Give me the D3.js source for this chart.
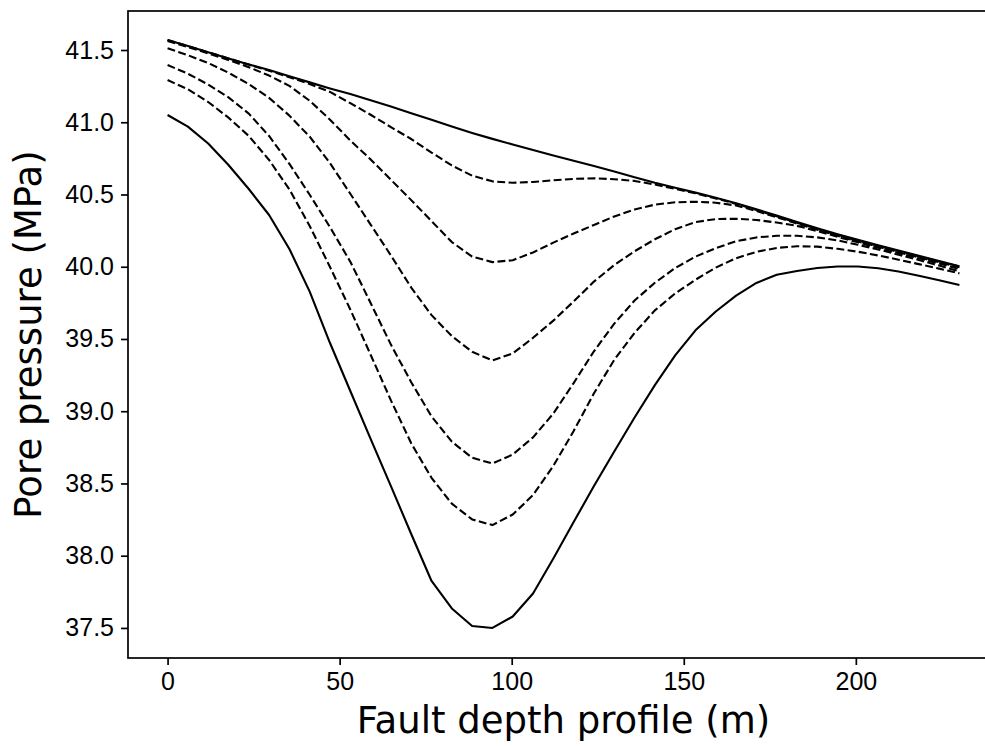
<!DOCTYPE html>
<html lang="en">
<head>
    <meta charset="UTF-8">
    <title>Pore pressure along fault depth</title>
    <script src="https://d3js.org/d3.v7.min.js"></script>
    <style>
        body { margin: 0; background: #fff; }
        svg { display: block; font-family: "DejaVu Sans", sans-serif; }
        .line { fill: none; stroke: #000; stroke-width: 2.1; stroke-linejoin: round; }
        .line.dashed { stroke-dasharray: 7.9, 3.4; }
        .axis path, .axis line { stroke: #000; stroke-width: 1.7; }
        .axis text { font-size: 25px; fill: #000; }
        .label { font-size: 37px; fill: #000; }
    </style>
</head>
<body>
<svg id="chart" width="985" height="746"></svg>

<script>
    // fault depth (m)
    const depth = [0, 5.9, 11.8, 17.7, 23.6, 29.5, 35.4, 41.3, 47.2, 53.1,
        59.0, 64.9, 70.8, 76.7, 82.6, 88.5, 94.4, 100.3, 106.2, 112.1,
        118.0, 123.9, 129.8, 135.7, 141.6, 147.5, 153.4, 159.3, 165.2, 171.1,
        177.0, 182.9, 188.8, 194.7, 200.6, 206.5, 212.4, 218.3, 224.2, 230.1];

    // pore pressure (MPa), initial profile
    const pInitial = [41.569, 41.527, 41.484, 41.442, 41.400, 41.361, 41.319, 41.276, 41.234, 41.195,
        41.152, 41.109, 41.063, 41.017, 40.970, 40.926, 40.885, 40.846, 40.808, 40.770,
        40.734, 40.697, 40.659, 40.620, 40.581, 40.547, 40.513, 40.478, 40.440, 40.398,
        40.354, 40.310, 40.267, 40.225, 40.186, 40.149, 40.112, 40.076, 40.040, 40.004];

    // intermediate profiles (dashed)
    const pStep1 = [41.569, 41.527, 41.484, 41.442, 41.399, 41.357, 41.311, 41.265, 41.210, 41.132,
        41.052, 40.966, 40.884, 40.790, 40.701, 40.630, 40.591, 40.581, 40.587, 40.598,
        40.608, 40.612, 40.606, 40.594, 40.569, 40.539, 40.508, 40.473, 40.435, 40.393,
        40.349, 40.305, 40.262, 40.220, 40.181, 40.144, 40.107, 40.071, 40.036, 40.001];

    const pStep2 = [41.562, 41.520, 41.477, 41.431, 41.381, 41.323, 41.252, 41.149, 41.018, 40.874,
        40.743, 40.602, 40.461, 40.316, 40.171, 40.070, 40.032, 40.045, 40.099, 40.167,
        40.230, 40.289, 40.348, 40.396, 40.430, 40.446, 40.450, 40.443, 40.424, 40.386,
        40.343, 40.299, 40.256, 40.214, 40.175, 40.138, 40.101, 40.065, 40.031, 39.996];

    const pStep3 = [41.512, 41.464, 41.410, 41.343, 41.264, 41.169, 41.046, 40.900, 40.717, 40.505,
        40.292, 40.078, 39.856, 39.665, 39.520, 39.411, 39.352, 39.400, 39.508, 39.627,
        39.760, 39.897, 40.012, 40.107, 40.190, 40.260, 40.309, 40.330, 40.332, 40.324,
        40.306, 40.283, 40.247, 40.207, 40.169, 40.131, 40.094, 40.058, 40.022, 39.985];

    const pStep4 = [41.396, 41.336, 41.261, 41.172, 41.060, 40.905, 40.712, 40.498, 40.274, 40.035,
        39.749, 39.461, 39.201, 38.964, 38.789, 38.678, 38.638, 38.700, 38.819, 38.984,
        39.195, 39.415, 39.606, 39.766, 39.889, 39.991, 40.070, 40.129, 40.176, 40.203,
        40.214, 40.214, 40.203, 40.182, 40.152, 40.120, 40.083, 40.047, 40.008, 39.968];

    const pStep5 = [41.292, 41.228, 41.140, 41.032, 40.905, 40.739, 40.535, 40.282, 39.998, 39.704,
        39.391, 39.075, 38.778, 38.539, 38.360, 38.251, 38.212, 38.285, 38.420, 38.622,
        38.863, 39.124, 39.356, 39.542, 39.698, 39.815, 39.910, 39.994, 40.059, 40.103,
        40.130, 40.142, 40.139, 40.124, 40.104, 40.078, 40.049, 40.018, 39.987, 39.954];

    // final profile
    const pFinal = [41.050, 40.970, 40.853, 40.704, 40.538, 40.358, 40.123, 39.828, 39.472, 39.140,
        38.808, 38.482, 38.150, 37.825, 37.635, 37.513, 37.500, 37.579, 37.738, 37.981,
        38.233, 38.482, 38.721, 38.956, 39.181, 39.386, 39.560, 39.690, 39.800, 39.888,
        39.944, 39.971, 39.991, 40.002, 40.002, 39.990, 39.967, 39.937, 39.906, 39.873];

    const xTicks = [0, 50, 100, 150, 200];
    const yTicks = [37.5, 38.0, 38.5, 39.0, 39.5, 40.0, 40.5, 41.0, 41.5];

    const series = [
        { values: pInitial, dashed: false },
        { values: pStep1, dashed: true },
        { values: pStep2, dashed: true },
        { values: pStep3, dashed: true },
        { values: pStep4, dashed: true },
        { values: pStep5, dashed: true },
        { values: pFinal, dashed: false }
    ];

    const box = { left: 128, right: 999, top: 11, bottom: 658 };

    // matplotlib-like 5% margins
    const xScale = d3.scaleLinear()
        .domain([-11.5, 241.6])
        .range([box.left, box.right]);

    const yScale = d3.scaleLinear()
        .domain([37.292, 41.770])
        .range([box.bottom, box.top]);

    const svg = d3.select("#chart");

    const line = d3.line()
        .x((d, i) => xScale(depth[i]))
        .y(d => yScale(d));

    svg.selectAll(".line")
        .data(series)
        .enter().append("path")
        .attr("class", d => d.dashed ? "line dashed" : "line")
        .attr("d", d => line(d.values));

    // axes
    const xAxis = svg.append("g")
        .attr("class", "axis")
        .attr("transform", `translate(0,${box.bottom})`)
        .call(d3.axisBottom(xScale).tickValues(xTicks).tickSize(7).tickPadding(7).tickSizeOuter(0));

    const yAxis = svg.append("g")
        .attr("class", "axis")
        .attr("transform", `translate(${box.left},0)`)
        .call(d3.axisLeft(yScale).tickValues(yTicks).tickFormat(d3.format(".1f")).tickSize(7).tickPadding(7).tickSizeOuter(0));

    xAxis.select(".domain").remove();
    yAxis.select(".domain").remove();

    // frame (right side falls outside the picture)
    svg.append("rect")
        .attr("x", box.left)
        .attr("y", box.top)
        .attr("width", box.right - box.left)
        .attr("height", box.bottom - box.top)
        .attr("fill", "none")
        .attr("stroke", "#000")
        .attr("stroke-width", 1.7);

    svg.append("text")
        .attr("class", "label")
        .attr("x", (box.left + box.right) / 2)
        .attr("y", 733)
        .attr("text-anchor", "middle")
        .text("Fault depth profile (m)");

    svg.append("text")
        .attr("class", "label")
        .attr("transform", `translate(41,${(box.top + box.bottom) / 2}) rotate(-90)`)
        .attr("text-anchor", "middle")
        .text("Pore pressure (MPa)");
</script>
</body>
</html>
